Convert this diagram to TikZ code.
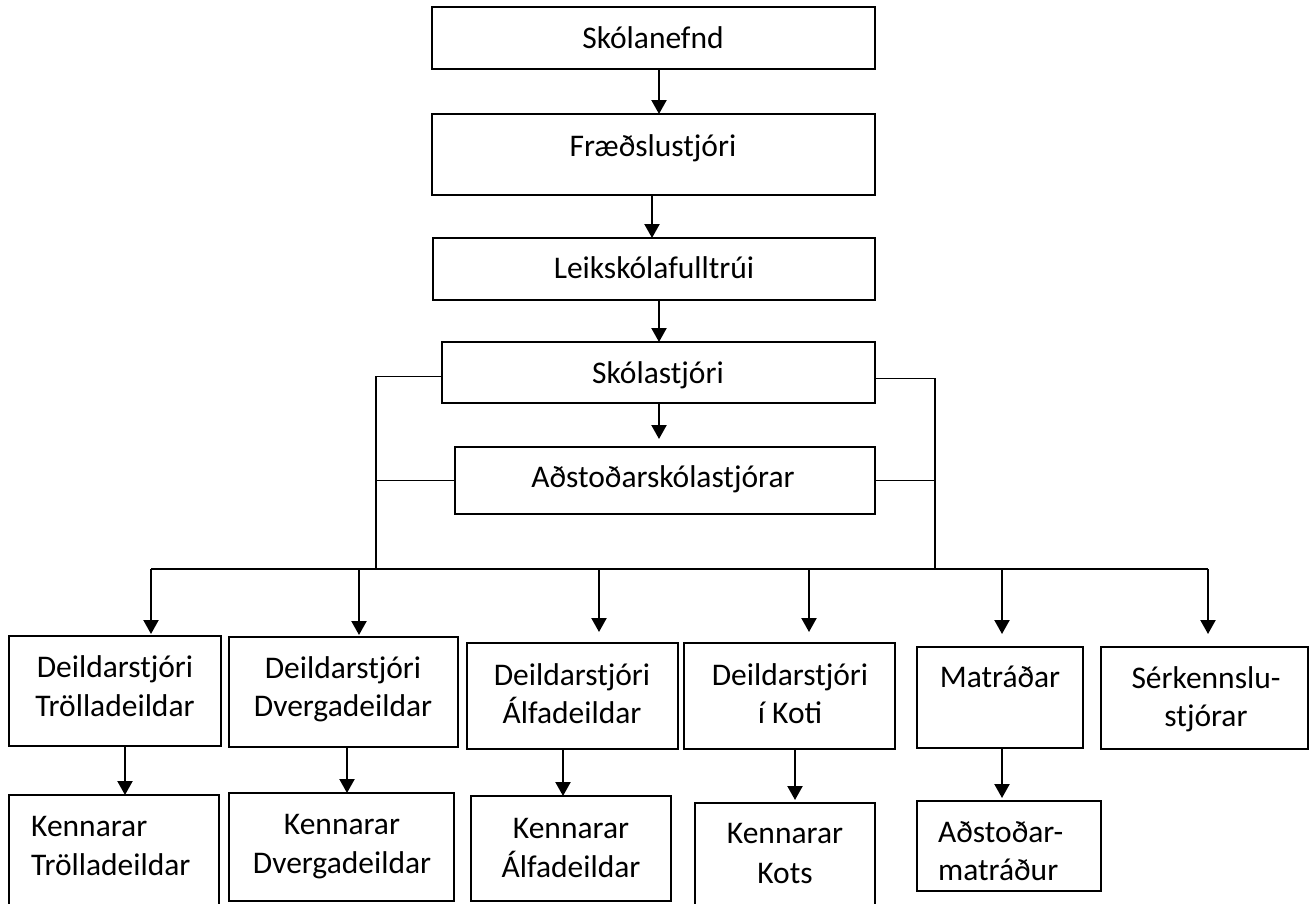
\documentclass[tikz,border=0pt]{standalone}
\usepackage{fontspec}
\setmainfont{Carlito}
\usetikzlibrary{arrows.meta}
\tikzset{
  box/.style={draw, line width=1.8pt, inner sep=0pt, outer sep=0pt},
  txt/.style={anchor=base, inner sep=0pt, font=\fontsize{31.5}{38}\selectfont},
  txtl/.style={anchor=base west, inner sep=0pt, font=\fontsize{31.5}{38}\selectfont},
  conn/.style={line width=1.6pt},
  arr/.style={line width=2.2pt, -{Triangle[length=14pt,width=15pt]}}
}
\begin{document}
\begin{tikzpicture}[x=1pt,y=-1pt]
\useasboundingbox (0,0) rectangle (1312,903);
\clip (0,0) rectangle (1312,903);
% boxes
\node[box, minimum width=443pt, minimum height=62pt] (skn) at (653.5,38) {};
\node[box, minimum width=443pt, minimum height=81pt] (fr) at (653.5,154.5) {};
\node[box, minimum width=442pt, minimum height=62pt] (lk) at (654,269) {};
\node[box, minimum width=433pt, minimum height=61pt] (sk) at (658.5,372.5) {};
\node[box, minimum width=420pt, minimum height=67pt] (ad) at (665,480.5) {};
\node[box, minimum width=212pt, minimum height=110pt] (dt) at (115,691) {};
\node[box, minimum width=229pt, minimum height=110pt] (dd) at (343.5,692) {};
\node[box, minimum width=211pt, minimum height=106pt] (da) at (572.5,696) {};
\node[box, minimum width=211pt, minimum height=106pt] (dk) at (789.5,696) {};
\node[box, minimum width=166pt, minimum height=101pt] (ma) at (1000,697.5) {};
\node[box, minimum width=207pt, minimum height=102pt] (se) at (1204.5,698) {};
\node[box, minimum width=210pt, minimum height=115pt] (kt) at (114,852.5) {};
\node[box, minimum width=225pt, minimum height=108pt] (kd) at (341.5,847) {};
\node[box, minimum width=200pt, minimum height=105pt] (ka) at (571,848.5) {};
\node[box, minimum width=180pt, minimum height=107pt] (kk) at (785,856.5) {};
\node[box, minimum width=184pt, minimum height=90pt] (am) at (1009,846) {};
% texts
\node[txt] (t1) at (653,48) {Skólanefnd};
\node[txt] (t2) at (653,156) {Fræðslustjóri};
\node[txt] (t3) at (654,278) {Leikskólafulltrúi};
\node[txt] (t4) at (658,383) {Skólastjóri};
\node[txt] (t5) at (663,487) {Aðstoðarskólastjórar};
\node[txt] (t6a) at (115,677) {Deildarstjóri};
\node[txt] (t6b) at (115,716) {Trölladeildar};
\node[txt] (t7a) at (343,678) {Deildarstjóri};
\node[txt] (t7b) at (343,716) {Dvergadeildar};
\node[txt] (t8a) at (572,685) {Deildarstjóri};
\node[txt] (t8b) at (572,723) {Álfadeildar};
\node[txt] (t9a) at (790,685) {Deildarstjóri};
\node[txt] (t9b) at (790,723) {í Koti};
\node[txt] (t10) at (1000,687) {Matráðar};
\node[txt] (t11a) at (1206,688) {Sérkennslu-};
\node[txt] (t11b) at (1206,726) {stjórar};
\node[txtl] (t12a) at (31,836) {Kennarar};
\node[txtl] (t12b) at (31,875) {Trölladeildar};
\node[txt] (t13a) at (342,834) {Kennarar};
\node[txt] (t13b) at (342,873) {Dvergadeildar};
\node[txt] (t14a) at (571,838) {Kennarar};
\node[txt] (t14b) at (571,877) {Álfadeildar};
\node[txt] (t15a) at (785,843) {Kennarar};
\node[txt] (t15b) at (785,883) {Kots};
\node[txtl] (t16a) at (938,842) {Aðstoðar-};
\node[txtl] (t16b) at (938,880) {matráður};
% helper coordinates
\coordinate (xa) at (659,0);
\coordinate (xb) at (652,0);
\coordinate (vl) at (376,569);
\coordinate (vr) at (935,569);
\coordinate (b1) at (151,569);
\coordinate (b2) at (359,569);
\coordinate (b3) at (599,569);
\coordinate (b4) at (809,569);
\coordinate (b5) at (1002,569);
\coordinate (b6) at (1208,569);
\coordinate (c1) at (125,0);
\coordinate (c2) at (347,0);
\coordinate (c3) at (563,0);
\coordinate (c4) at (795,0);
% top chain
\draw[arr] (skn.south -| xa) -- (fr.north -| xa);
\draw[arr] (fr.south -| xb) -- (lk.north -| xb);
\draw[arr] (lk.south -| xa) -- (sk.north -| xa);
\draw[arr] (sk.south -| xa) -- ([yshift=8pt]ad.north -| xa);
% side lines and bus
\draw[conn] ([yshift=-4pt]sk.west) -| (vl);
\draw[conn] ([yshift=-6pt]sk.east) -| (vr);
\draw[conn] (ad.west) -- (ad.west -| vl);
\draw[conn] (ad.east) -- (ad.east -| vr);
\draw[conn] (b1) -- (b6);
% bus arrows
\draw[arr] (b1) -- ([yshift=2pt]dt.north -| b1);
\draw[arr] (b2) -- ([yshift=2pt]dd.north -| b2);
\draw[arr] (b3) -- ([yshift=11pt]da.north -| b3);
\draw[arr] (b4) -- ([yshift=11pt]dk.north -| b4);
\draw[arr] (b5) -- ([yshift=13pt]ma.north -| b5);
\draw[arr] (b6) -- ([yshift=13pt]se.north -| b6);
% lower arrows
\draw[arr] (dt.south -| c1) -- (kt.north -| c1);
\draw[arr] (dd.south -| c2) -- (kd.north -| c2);
\draw[arr] (da.south -| c3) -- (ka.north -| c3);
\draw[arr] (dk.south -| c4) -- ([yshift=3pt]kk.north -| c4);
\draw[arr] (ma.south -| b5) -- ([yshift=3pt]am.north -| b5);
\end{tikzpicture}
\end{document}
